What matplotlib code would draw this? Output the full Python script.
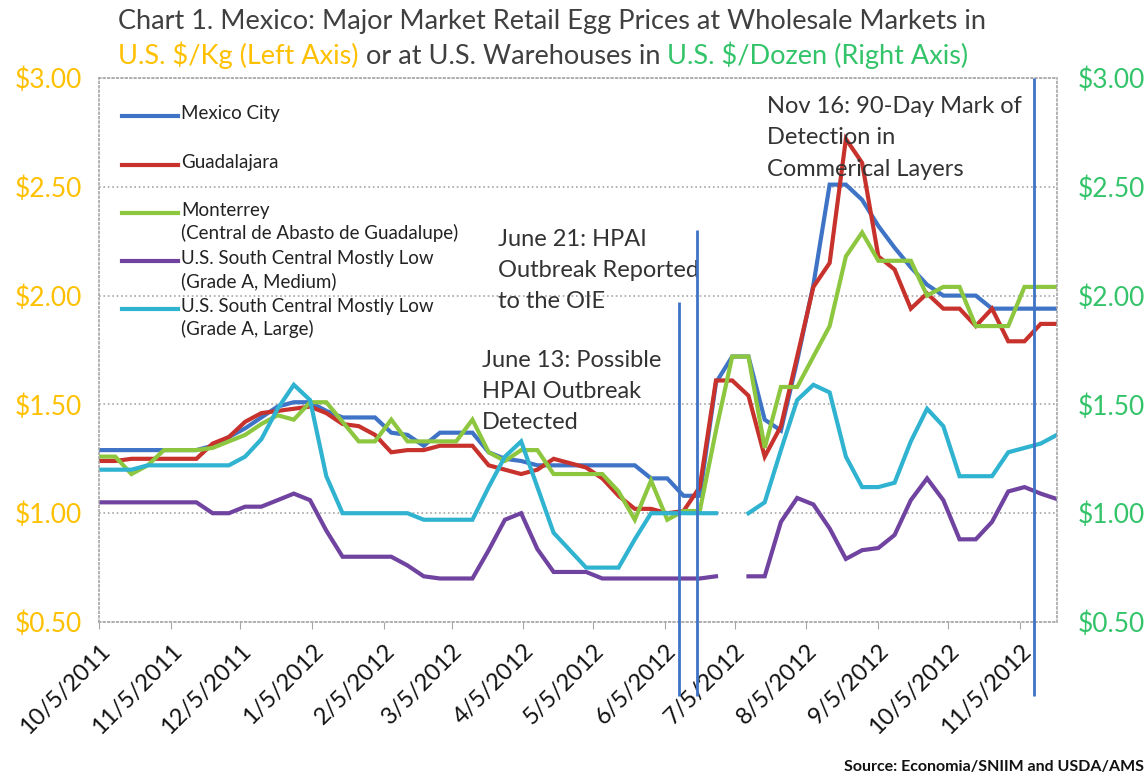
"""
    egg_prices

    Mexico / U.S. egg prices with HPAI event markers.
"""

import matplotlib
matplotlib.use("Agg")
import matplotlib.pyplot as plt
import numpy as np
import pandas as pd

nan = np.nan

# weekly observations
weeks = pd.date_range("2011-10-05", periods=60, freq="7D")

mexico_city = [1.29, 1.29, 1.29, 1.29, 1.29, 1.29, 1.29, 1.31, 1.35, 1.39,
               1.44, 1.49, 1.51, 1.51, 1.47, 1.44, 1.44, 1.44, 1.37, 1.36,
               1.31, 1.37, 1.37, 1.37, 1.28, 1.25, 1.24, 1.22, 1.22, 1.22,
               1.22, 1.22, 1.22, 1.22, 1.16, 1.16, 1.08, 1.08, 1.60, 1.72,
               1.72, 1.43, 1.38, 1.70, 2.05, 2.51, 2.51, 2.44, 2.32, 2.22,
               2.13, 2.05, 2.00, 2.00, 2.00, 1.94, 1.94, 1.94, 1.94, 1.94]
guadalajara = [1.24, 1.24, 1.25, 1.25, 1.25, 1.25, 1.25, 1.32, 1.35, 1.42,
               1.46, 1.47, 1.48, 1.49, 1.46, 1.41, 1.40, 1.36, 1.28, 1.29,
               1.29, 1.31, 1.31, 1.31, 1.22, 1.20, 1.18, 1.20, 1.25, 1.23,
               1.21, 1.16, 1.08, 1.02, 1.02, 1.00, 1.01, 1.12, 1.61, 1.61,
               1.54, 1.26, 1.40, 1.72, 2.04, 2.15, 2.72, 2.61, 2.18, 2.12,
               1.94, 2.01, 1.94, 1.94, 1.86, 1.94, 1.79, 1.79, 1.87, 1.87]
monterrey = [1.26, 1.26, 1.18, 1.22, 1.29, 1.29, 1.29, 1.30, 1.33, 1.36,
             1.41, 1.45, 1.43, 1.51, 1.51, 1.42, 1.33, 1.33, 1.43, 1.33,
             1.33, 1.33, 1.33, 1.43, 1.28, 1.24, 1.29, 1.29, 1.18, 1.18,
             1.18, 1.18, 1.10, 0.97, 1.15, 0.97, 1.01, 1.01, 1.38, 1.72,
             1.72, 1.30, 1.58, 1.58, 1.72, 1.86, 2.18, 2.29, 2.16, 2.16,
             2.16, 2.00, 2.04, 2.04, 1.86, 1.86, 1.86, 2.04, 2.04, 2.04]
us_medium = [1.05, 1.05, 1.05, 1.05, 1.05, 1.05, 1.05, 1.00, 1.00, 1.03,
             1.03, 1.06, 1.09, 1.06, 0.92, 0.80, 0.80, 0.80, 0.80, 0.76,
             0.71, 0.70, 0.70, 0.70, 0.83, 0.97, 1.00, 0.835, 0.73, 0.73,
             0.73, 0.70, 0.70, 0.70, 0.70, 0.70, 0.70, 0.70, 0.71, nan,
             0.71, 0.71, 0.96, 1.07, 1.04, 0.93, 0.79, 0.83, 0.84, 0.90,
             1.06, 1.16, 1.06, 0.88, 0.88, 0.96, 1.10, 1.12, 1.09, 1.065]
us_large = [1.20, 1.20, 1.20, 1.22, 1.22, 1.22, 1.22, 1.22, 1.22, 1.26,
            1.34, 1.48, 1.59, 1.52, 1.17, 1.00, 1.00, 1.00, 1.00, 1.00,
            0.97, 0.97, 0.97, 0.97, 1.12, 1.26, 1.33, 1.12, 0.91, 0.83,
            0.75, 0.75, 0.75, 0.88, 1.00, 1.00, 1.00, 1.00, 1.00, nan,
            1.00, 1.05, 1.29, 1.52, 1.59, 1.555, 1.26, 1.12, 1.12, 1.14,
            1.33, 1.48, 1.40, 1.17, 1.17, 1.17, 1.28, 1.30, 1.32, 1.36]

series = [mexico_city, guadalajara, monterrey, us_medium, us_large]
labels = ["Mexico City",
          "Guadalajara",
          "Monterrey\n(Central de Abasto de Guadalupe)",
          "U.S. South Central Mostly Low\n(Grade A, Medium)",
          "U.S. South Central Mostly Low\n(Grade A, Large)"]
colors = ["#3E73C6", "#C8322D", "#8DC63F", "#7043A0", "#2FB3D0"]

# event markers: date, top of the drawn line
event_dates = pd.to_datetime(["2012-06-11", "2012-06-19", "2012-11-11"])
event_tops = [1.97, 2.30, 3.00]
event_texts = ["June 13: Possible\nHPAI Outbreak\nDetected",
               "June 21: HPAI\nOutbreak Reported\nto the OIE",
               "Nov 16: 90-Day Mark of\nDetection in\nCommerical Layers"]
note_x = pd.to_datetime(["2012-03-18", "2012-03-25", "2012-07-19"])
note_y = [1.56, 2.115, 2.725]

yticks = [0.5, 1.0, 1.5, 2.0, 2.5, 3.0]
month_ticks = [pd.Timestamp(2011 + (9 + k) // 12, (9 + k) % 12 + 1, 5) for k in range(14)]

FONT = ["Lato", "DejaVu Sans"]
plt.rcParams["font.family"] = FONT

gold = "#FFC000"
green = "#33C46A"
dark = "#404040"
gridc = "#A6A6A6"

fig = plt.figure(figsize=(11.47, 7.83), dpi=100)
ax = fig.add_axes([0.0863, 0.2056, 0.8352, 0.6948])

for vals, lab, col in zip(series, labels, colors):
    ax.plot(weeks, vals, color=col, lw=3.0, solid_joinstyle="miter", label=lab)

# vertical event lines (they run below the axis, as in the original)
vl = ax.vlines(event_dates, 0.16, event_tops, color="#3E73C6", lw=2.0, zorder=5)
vl.set_clip_on(False)

ax.set_xlim(weeks[0], weeks[-1])
ax.set_ylim(0.5, 3.0)
ax.set_yticks(yticks)
ax.set_yticklabels(["${:.2f}".format(v) for v in yticks], color=gold, fontsize=19)
ax.set_xticks(month_ticks)
ax.set_xticklabels(["{}/{}/{}".format(d.month, d.day, d.year) for d in month_ticks],
                   rotation=45, ha="right", rotation_mode="anchor", fontsize=17,
                   color="#111111")
ax.tick_params(axis="y", length=0, pad=12)
ax.tick_params(axis="x", length=5, color=gridc, pad=8)
ax.grid(axis="y", color=gridc, ls=":", lw=1.2)
for s in ax.spines.values():
    s.set_color(gridc)
    s.set_linestyle(":")
    s.set_linewidth(1.2)

ax2 = ax.twinx()
ax2.set_ylim(0.5, 3.0)
ax2.set_yticks(yticks)
ax2.set_yticklabels(["${:.2f}".format(v) for v in yticks], color=green, fontsize=19)
ax2.tick_params(axis="y", length=0, pad=15)
for s in ax2.spines.values():
    s.set_visible(False)

# legend, drawn by hand so the rows sit like the Excel one
leg_rows = [0.930, 0.840, 0.751, 0.663, 0.575]
for yr, lab, col in zip(leg_rows, labels, colors):
    ax.plot([0.024, 0.083], [yr, yr], color=col, lw=3.0, transform=ax.transAxes)
    ax.text(0.086, yr + 0.021, lab, transform=ax.transAxes, va="top", ha="left",
            fontsize=13.5, color="#222222", linespacing=1.35)

# event notes
for xn, yn, txt in zip(note_x, note_y, event_texts):
    ax.text(xn, yn, txt, fontsize=17, color="#333333", va="center", ha="left",
            linespacing=1.6)

# two-line title, second line in three colours
fig.text(0.103, 0.972, "Chart 1. Mexico: Major Market Retail Egg Prices at Wholesale Markets in",
         fontsize=19.5, color=dark, va="center", ha="left")
t1 = fig.text(0.103, 0.930, "U.S. $/Kg (Left Axis)", fontsize=19.5, color=gold,
              va="center", ha="left")
t2 = fig.text(0, 0, " or at U.S. Warehouses in ", fontsize=19.5, color=dark)
t3 = fig.text(0, 0, "U.S. $/Dozen (Right Axis)", fontsize=19.5, color=green)
fig.canvas.draw()
r = fig.canvas.get_renderer()
bb = t1.get_window_extent(r).transformed(fig.transFigure.inverted())
t2.set_position((bb.x1, bb.y0))
t2.set_va("bottom")
fig.canvas.draw()
bb = t2.get_window_extent(r).transformed(fig.transFigure.inverted())
t3.set_position((bb.x1, bb.y0))
t3.set_va("bottom")

fig.text(0.997, 0.012, "Source: Economia/SNIIM and USDA/AMS", ha="right", va="bottom",
         fontsize=11.5, fontweight="bold", color="#111111",
         family=["Liberation Sans Narrow", "Lato", "DejaVu Sans"])

fig.savefig("out.png", dpi=100)
